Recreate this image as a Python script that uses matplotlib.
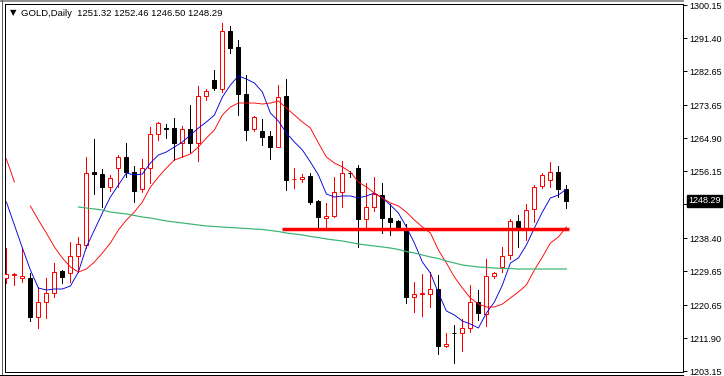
import matplotlib
matplotlib.use("Agg")
import matplotlib.pyplot as plt
import numpy as np
from matplotlib.patches import Rectangle
from matplotlib.lines import Line2D

plt.rcParams['font.family'] = ['Liberation Sans', 'DejaVu Sans']

# daily GOLD candles (oldest first)
opens = [1227.87, 1228.60, 1228.00, 1227.87, 1217.54, 1221.51, 1223.89, 1229.72, 1229.19, 1233.69,
         1236.61, 1255.94, 1255.41, 1251.97, 1256.99, 1259.91, 1255.94, 1251.43, 1256.99, 1265.99,
         1267.60, 1267.58, 1263.61, 1267.32, 1263.61, 1276.06, 1280.29, 1277.91, 1293.27, 1289.03,
         1276.59, 1267.32, 1266.79, 1265.47, 1262.55, 1276.06, 1253.95, 1254.21, 1254.88, 1248.26,
         1243.76, 1244.29, 1250.64, 1255.67, 1256.99, 1243.49, 1246.67, 1249.85, 1243.76, 1242.96,
         1241.11, 1222.84, 1223.50, 1223.63, 1224.95, 1209.87, 1213.31, 1213.31, 1214.63, 1221.51,
         1218.34, 1228.40, 1230.78, 1233.96, 1242.96, 1241.11, 1246.14, 1252.23, 1253.82, 1255.94,
         1251.32]
highs = [1235.81, 1229.19, 1235.81, 1229.19, 1225.49, 1227.87, 1231.84, 1229.99, 1237.40, 1238.73,
         1259.91, 1264.67, 1256.73, 1255.14, 1260.44, 1263.61, 1257.52, 1259.38, 1267.85, 1269.17,
         1268.64, 1270.23, 1268.11, 1273.67, 1278.70, 1277.91, 1282.94, 1295.38, 1294.59, 1290.88,
         1281.62, 1270.76, 1269.97, 1266.79, 1278.97, 1280.56, 1256.99, 1255.41, 1255.67, 1248.52,
         1247.73, 1254.61, 1258.85, 1256.20, 1257.79, 1253.02, 1254.61, 1253.02, 1247.46, 1243.22,
         1242.17, 1226.81, 1228.93, 1229.45, 1228.66, 1213.31, 1215.43, 1217.02, 1226.02, 1224.70,
         1232.90, 1229.45, 1236.08, 1243.49, 1244.55, 1247.46, 1252.49, 1255.67, 1258.58, 1257.52,
         1252.46]
lows = [1226.55, 1226.02, 1226.81, 1216.48, 1214.64, 1217.28, 1222.84, 1226.55, 1226.81, 1229.45,
        1235.81, 1250.11, 1246.67, 1250.90, 1251.97, 1254.61, 1248.00, 1250.64, 1253.02, 1264.41,
        1264.94, 1259.11, 1259.91, 1261.23, 1258.85, 1275.00, 1277.65, 1277.12, 1287.44, 1271.03,
        1264.41, 1266.79, 1263.08, 1259.38, 1262.55, 1251.17, 1251.70, 1253.29, 1247.46, 1241.11,
        1241.11, 1244.02, 1246.67, 1254.61, 1236.08, 1241.11, 1245.61, 1239.78, 1239.25, 1241.11,
        1221.25, 1218.87, 1217.81, 1220.19, 1207.75, 1209.60, 1205.37, 1208.54, 1213.57, 1216.75,
        1215.16, 1227.87, 1229.45, 1232.90, 1236.08, 1237.93, 1242.70, 1251.70, 1251.96, 1249.32,
        1246.50]
closes = [1228.93, 1228.90, 1228.30, 1217.54, 1221.51, 1223.89, 1229.45, 1228.13, 1233.69, 1236.87,
          1255.67, 1255.41, 1251.97, 1254.35, 1259.91, 1255.94, 1250.90, 1256.99, 1265.99, 1268.91,
          1267.40, 1263.61, 1267.32, 1263.61, 1276.06, 1277.38, 1278.17, 1293.27, 1288.77, 1276.59,
          1267.05, 1270.50, 1265.20, 1262.55, 1275.79, 1253.82, 1254.21, 1254.48, 1247.99, 1244.02,
          1244.29, 1250.64, 1255.67, 1255.54, 1243.49, 1246.67, 1250.11, 1243.76, 1242.70, 1241.37,
          1222.84, 1223.63, 1223.77, 1224.95, 1209.87, 1210.40, 1213.18, 1214.63, 1221.51, 1218.60,
          1228.40, 1229.19, 1233.69, 1242.96, 1241.11, 1245.87, 1251.96, 1255.14, 1255.94, 1251.44,
          1248.29]

# moving averages as drawn on the chart
ma_fast = [1247.99, 1241.90, 1235.81, 1229.99, 1225.22, 1224.69, 1224.96, 1224.96, 1225.75, 1229.46,
           1236.08, 1240.58, 1245.08, 1249.31, 1252.49, 1255.67, 1255.14, 1255.40, 1258.31, 1260.43,
           1261.23, 1262.55, 1263.87, 1265.73, 1267.58, 1269.17, 1271.02, 1275.79, 1278.97, 1281.35,
           1280.55, 1279.49, 1277.11, 1271.55, 1269.43, 1266.26, 1263.87, 1261.76, 1258.58, 1255.14,
           1250.11, 1249.31, 1249.58, 1249.58, 1249.05, 1249.58, 1250.37, 1249.05, 1247.20, 1245.08,
           1241.37, 1237.13, 1232.10, 1229.19, 1223.90, 1219.13, 1218.07, 1216.48, 1215.69, 1214.63,
           1218.60, 1221.51, 1226.01, 1231.84, 1233.16, 1236.60, 1241.10, 1245.34, 1249.05, 1249.84,
           1251.43]
ma_mid = [1259.37, 1253.29, np.nan, 1246.93, 1243.22, 1239.78, 1236.08, 1233.16, 1230.78, 1229.46,
          1230.25, 1232.10, 1234.49, 1237.13, 1240.58, 1243.22, 1245.34, 1247.99, 1251.96, 1254.61,
          1256.99, 1259.11, 1259.90, 1260.70, 1262.55, 1264.93, 1267.05, 1271.02, 1273.14, 1274.20,
          1274.20, 1274.20, 1273.93, 1274.20, 1274.73, 1272.88, 1271.02, 1269.17, 1267.58, 1263.61,
          1259.90, 1258.31, 1257.26, 1255.93, 1253.29, 1251.96, 1250.37, 1249.05, 1247.72, 1246.93,
          1245.34, 1243.22, 1241.37, 1239.78, 1235.28, 1231.84, 1228.13, 1225.22, 1222.57, 1220.98,
          1220.19, 1220.19, 1220.98, 1222.57, 1224.16, 1226.01, 1229.99, 1233.43, 1237.13, 1238.72,
          1241.37]
ma_slow = [np.nan] * 9 + [
    1246.67, 1246.40, 1246.14, 1245.87, 1245.34, 1245.08, 1244.81, 1244.42, 1244.02, 1243.75,
    1243.36, 1242.96, 1242.70, 1242.43, 1242.17, 1241.90, 1241.64, 1241.50, 1241.37, 1241.24,
    1241.11, 1240.98, 1240.84, 1240.71, 1240.45, 1240.18, 1239.78, 1239.52, 1239.26, 1238.86,
    1238.59, 1238.20, 1237.93, 1237.67, 1237.27, 1236.87, 1236.61, 1236.34, 1236.08, 1235.81,
    1235.41, 1234.88, 1234.49, 1233.96, 1233.43, 1233.03, 1232.37, 1231.84, 1231.31, 1231.05,
    1230.78, 1230.65, 1230.52, 1230.38, 1230.38, 1230.25, 1230.25, 1230.25, 1230.25, 1230.25,
    1230.25, 1230.25]

level_price = 1240.90
level_from, level_to = 34.4, 70.3

price_ticks = [1300.15, 1291.40, 1282.65, 1273.65, 1264.90, 1256.15, 1247.40,
               1238.40, 1229.65, 1220.65, 1211.90, 1203.15]
title = "GOLD,Daily  1251.32 1252.46 1246.50 1248.29"
last_price = closes[-1]

W, H = 724, 376
fig = plt.figure(figsize=(W / 100, H / 100), dpi=100)
ax = fig.add_axes([5 / W, 4 / H, 678 / W, 368 / H])

x = np.arange(len(opens))
px = 0.72  # one pixel in points

for i in x:
    o, h, l, c = opens[i], highs[i], lows[i], closes[i]
    col = 'red' if c >= o else 'black'
    ax.add_line(Line2D([i, i], [l, h], color=col, lw=px, zorder=2, antialiased=False))
    lo, hi = min(o, c), max(o, c)
    face = 'white' if c >= o else 'black'
    ax.add_patch(Rectangle((i - 0.25, lo), 0.5, hi - lo, facecolor=face,
                           edgecolor=col, lw=px, zorder=3))

ax.plot(x, ma_fast, color='#0000dd', lw=0.65, zorder=4)
ax.plot(x, ma_mid, color='red', lw=0.65, zorder=4)
ax.plot(x, ma_slow, color='#3cb371', lw=px * 1.2, zorder=4)
ax.plot([level_from, level_to], [level_price, level_price], color='red', lw=2.5,
        solid_capstyle='butt', zorder=5)

ax.set_xlim(-0.175, 84.575)
ax.set_ylim(1202.98, 1300.415)
ax.set_xticks([])
ax.yaxis.tick_right()
ax.set_yticks(price_ticks)
ax.set_yticklabels([f"{p:.2f}" for p in price_ticks])
ax.tick_params(axis='y', length=3, width=px, pad=1.5, labelsize=6.5, colors='black')
for s in ax.spines.values():
    s.set_linewidth(px)
    s.set_color('black')

# title in the corner
fig.text(9.5 / W, 1 - 13 / H, "\u25bc", fontsize=6, family='DejaVu Sans', va='center')
fig.text(21 / W, 1 - 13 / H, title, fontsize=6.8, va='center', color='black')

# current price tag
fig.text(688 / W, 1 - 201 / H, f"{last_price:.2f}", fontsize=6.5, color='white', va='center',
         bbox=dict(boxstyle='square,pad=0.15', facecolor='black', edgecolor='black'))

# window frame
fig.add_artist(Line2D([0, 683 / W], [1 - 0.5 / H, 1 - 0.5 / H], color='#909090', lw=1.4))
fig.add_artist(Line2D([1.5 / W, 1.5 / W], [0, 1], color='#606060', lw=px))
fig.add_artist(Line2D([0, 683 / W], [1.5 / H, 1.5 / H], color='black', lw=px))

fig.savefig("out.png", dpi=100)
